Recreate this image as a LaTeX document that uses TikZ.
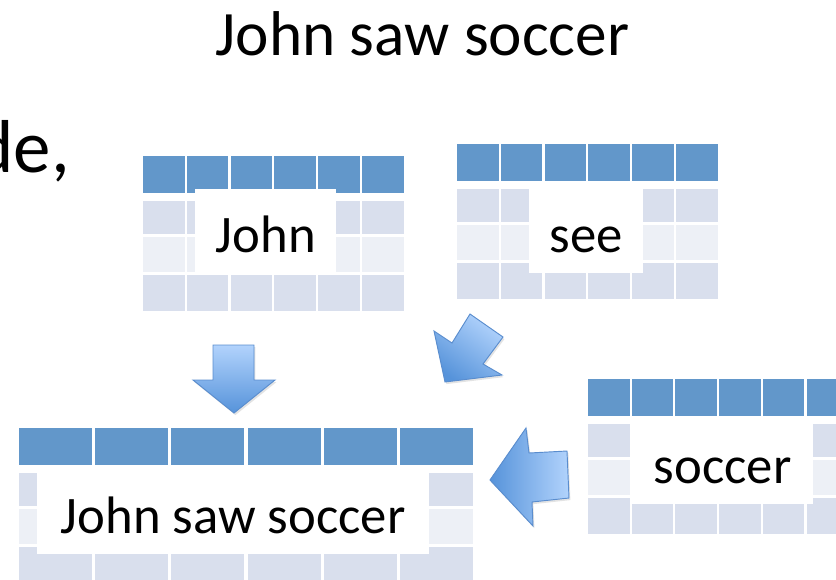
\documentclass[tikz,border=0pt]{standalone}
\usepackage{fontspec}
\setmainfont{Carlito}
\usetikzlibrary{positioning, shadows}
\definecolor{headblue}{RGB}{98,151,202}
\definecolor{rowdark}{RGB}{217,223,237}
\definecolor{rowlight}{RGB}{237,240,246}
\definecolor{arrowlight}{RGB}{178,211,252}
\definecolor{arrowdark}{RGB}{86,147,218}
\definecolor{arrowline}{RGB}{90,141,206}
\tikzset{
    wordbox/.style={rectangle, fill=white, inner sep=0pt, anchor=north west, minimum height=2.52cm, text height=1.89cm, text depth=0.63cm, font=\fontsize{45}{50}\selectfont},
    bigtext/.style={font=\fontsize{54}{60}\selectfont},
    bigarrow/.style={draw=arrowline, line width=0.8pt, line join=miter, drop shadow={shadow xshift=1.2pt, shadow yshift=-1.8pt, opacity=0.18, fill=black!60}}
}
% six-column table: #1 left, #2 top, #3 cell width, #4 column pitch (all in px)
\newcommand{\gridtable}[4]{%
  \foreach \c in {0,...,5} {
    \fill[headblue] ({#1+\c*#4},#2) rectangle ++(#3,37);
    \foreach \rowtop/\rowh/\rowcol in {45/33/rowdark, 81/35/rowlight, 119/36/rowdark}
      \fill[\rowcol] ({#1+\c*#4},{#2+\rowtop}) rectangle ++(#3,\rowh);
  }%
}
\begin{document}
\begin{tikzpicture}[x=0.03cm, y=-0.03cm]
    \useasboundingbox (0,0) rectangle (836,579);
    % Heading and the cut-off line on the left
    \node (title) [bigtext, anchor=base] at (422.5,55) {John saw soccer};
    \node (prevline) [font=\fontsize{64}{70}\selectfont, anchor=base east] at (74,172) {de,};

    % Word tables
    \gridtable{143}{156}{41.5}{43.8}
    \gridtable{457}{144}{41.5}{43.8}
    \gridtable{588}{379}{41.5}{43.7}
    \gridtable{19}{428}{73}{76.2}

    \node (johnbox) [wordbox, minimum width=4.23cm] at (195,189) {John};
    \node (seebox) [wordbox, minimum width=3.42cm] at (529,189) {see};
    \node (soccerbox) [wordbox, minimum width=5.43cm] at (632,420) {soccer};
    \node (sentbox) [wordbox, minimum width=11.76cm] at (37,470) {John saw soccer};

    % Block arrows
    \draw [bigarrow, top color=arrowlight, bottom color=arrowdark]
        (213,345) -- (254,345) -- (254,380) -- (275,380) -- (234,413) -- (193,380) -- (213,380) -- cycle;
    \draw [bigarrow, top color=arrowlight, bottom color=arrowdark, shading angle=-36]
        (470,314) -- (503,337) -- (483,364) -- (502,375) -- (445,382) -- (434,331) -- (452,343) -- cycle;
    \draw [bigarrow, left color=arrowdark, right color=arrowlight]
        (567,451) -- (569,498) -- (532,502) -- (533,526) -- (490,480) -- (526,428) -- (529,453) -- cycle;
\end{tikzpicture}
\end{document}
